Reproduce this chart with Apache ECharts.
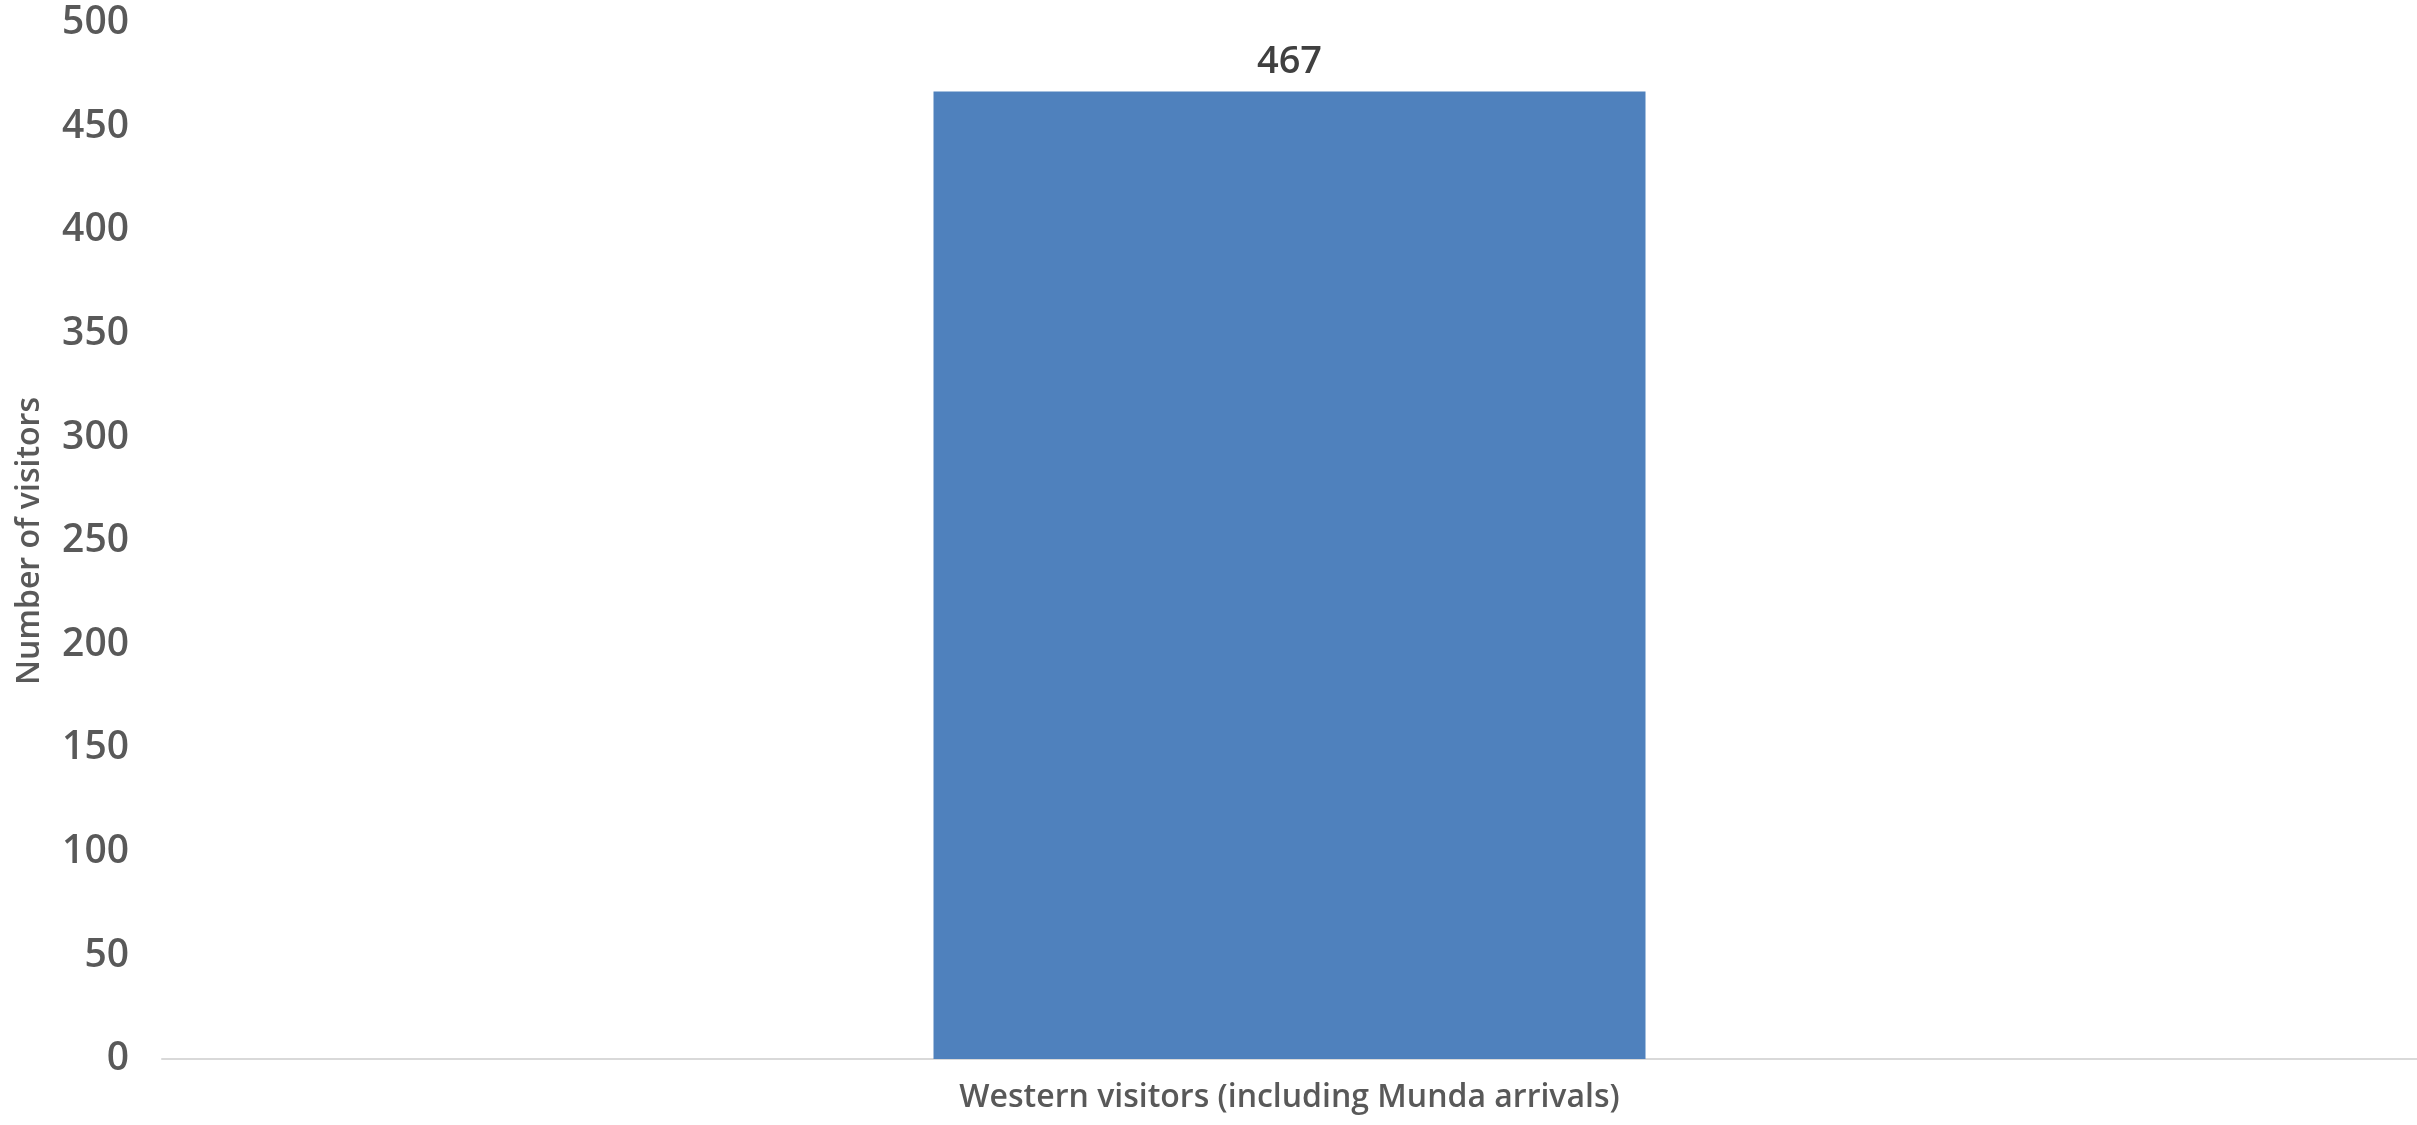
<!DOCTYPE html>
<html>
<head>
<meta charset="utf-8">
<script src="https://cdn.jsdelivr.net/npm/echarts@6/dist/echarts.min.js"></script>
<style>
html,body{margin:0;padding:0;background:#fff;}
#chart{width:2417px;height:1125px;}
</style>
</head>
<body>
<div id="chart"></div>
<script>
const categories = ["Western visitors (including Munda arrivals)"];
const visitors = [467];
const yAxisTitle = "Number of visitors";

const FONT = "'Open Sans', 'Liberation Sans', sans-serif";
const chart = echarts.init(document.getElementById('chart'), null, {renderer: 'canvas'});
chart.setOption({
  animation: false,
  backgroundColor: '#ffffff',
  grid: {left: 162, right: 0, top: 23, bottom: 66, containLabel: false},
  xAxis: {
    type: 'category',
    data: categories,
    axisLine: {show: true, lineStyle: {color: '#d9d9d9', width: 2}},
    axisTick: {show: false},
    axisLabel: {
      margin: 23,
      color: '#595959',
      fontFamily: FONT,
      fontWeight: 600,
      fontSize: 32
    }
  },
  yAxis: {
    type: 'value',
    min: 0,
    max: 500,
    interval: 50,
    name: yAxisTitle,
    nameLocation: 'middle',
    nameGap: 116,
    nameRotate: 90,
    nameTextStyle: {
      color: '#595959',
      fontFamily: FONT,
      fontWeight: 600,
      fontSize: 32
    },
    axisLine: {show: false},
    axisTick: {show: false},
    splitLine: {show: false},
    axisLabel: {
      margin: 33,
      color: '#595959',
      fontFamily: FONT,
      fontWeight: 600,
      fontSize: 39
    }
  },
  series: [{
    type: 'bar',
    data: visitors,
    barWidth: 712,
    itemStyle: {color: '#4f81bd'},
    label: {
      show: true,
      position: 'top',
      distance: 10,
      color: '#404040',
      fontFamily: FONT,
      fontWeight: 600,
      fontSize: 38
    }
  }]
});
</script>
</body>
</html>
